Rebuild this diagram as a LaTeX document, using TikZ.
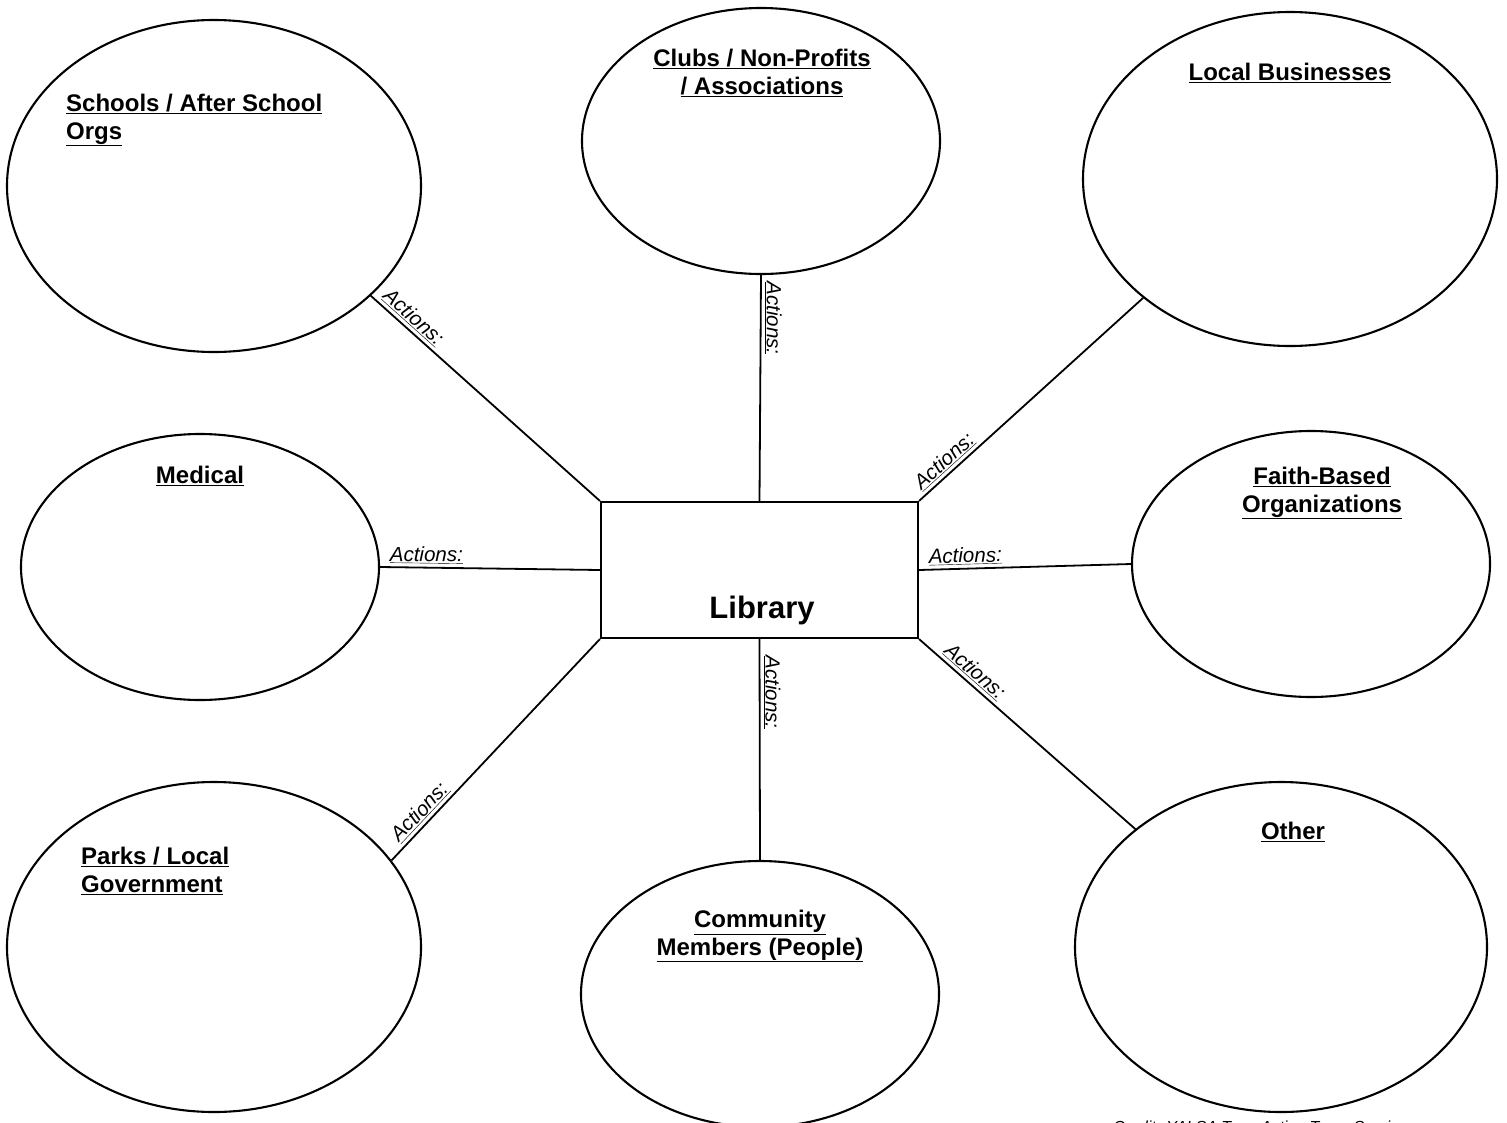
\documentclass[tikz,border=0pt]{standalone}
\usepackage{fontspec}
\setmainfont{Liberation Sans}
\usetikzlibrary{shapes.geometric}
\begin{document}
\begin{tikzpicture}[x=1pt,y=-1pt,
  bub/.style={draw, ellipse, line width=2.1pt, inner sep=0pt},
  ttl/.style={font=\fontsize{24}{27.5}\selectfont\bfseries, inner sep=0pt, anchor=north},
  actf/.style={font=\fontsize{20.5}{22}\selectfont\itshape, inner sep=3pt},
  act/.style={actf, sloped, above},
  conn/.style={line width=1.8pt}]
\useasboundingbox (0,0) rectangle (1507,1122);
% bubbles
\node[bub, minimum width=414pt, minimum height=332pt] (sch) at (214,186) {};
\node[bub, minimum width=358pt, minimum height=266pt] (club) at (761,141) {};
\node[bub, minimum width=414pt, minimum height=334pt] (lb) at (1290,179) {};
\node[bub, minimum width=358pt, minimum height=266pt] (med) at (200,567) {};
\node[bub, minimum width=358pt, minimum height=266pt] (fth) at (1311,564) {};
\node[bub, minimum width=414pt, minimum height=330pt] (park) at (214,947) {};
\node[bub, minimum width=358pt, minimum height=266pt] (comm) at (760,994) {};
\node[bub, minimum width=412pt, minimum height=330pt] (oth) at (1281,947) {};
% library
\node[draw, line width=2.1pt, minimum width=317pt, minimum height=136pt, inner sep=0pt] (lib) at (759.5,570) {};
\node[font=\fontsize{31}{34}\selectfont\bfseries, inner sep=0pt, anchor=base] (libt) at (762,618) {Library};
% titles
\node[ttl, anchor=north west, align=left] (tsch) at (66,94) {\underline{Schools / After School}\\\underline{Orgs}};
\node[ttl, align=center] (tclub) at (762,49) {\underline{Clubs / Non-Profits}\\\underline{/ Associations}};
\node[ttl] (tlb) at (1290,63) {\underline{Local Businesses}};
\node[ttl] (tmed) at (200,466) {\underline{Medical}};
\node[ttl, align=center] (tfth) at (1322,467) {\underline{Faith-Based}\\\underline{Organizations}};
\node[ttl, anchor=north west, align=left] (tpark) at (81,847) {\underline{Parks / Local}\\\underline{Government}};
\node[ttl, align=center] (tcomm) at (760,910) {\underline{Community}\\\underline{Members (People)}};
\node[ttl] (toth) at (1293,822) {\underline{Other}};
% connectors
\draw[conn] (sch.-35) -- node[act, pos=0.15] {\underline{Actions:}} (lib.north west);
\draw[conn] (club.-90) -- node[actf, pos=0.19, rotate=-90, anchor=south] {\underline{Actions:}} (lib.north);
\draw[conn] (lib.north east) -- node[act, pos=0.15] {\underline{Actions:}} (lb.-141);
\draw[conn] (med.0) -- node[act, pos=0.21] {\underline{Actions:}} (lib.west);
\draw[conn] (lib.east) -- node[act, pos=0.22] {\underline{Actions:}} (fth.180);
\draw[conn] (park.26) -- node[act, pos=0.18] {\underline{Actions:}} (lib.south west);
\draw[conn] (lib.south) -- node[actf, pos=0.24, rotate=-90, anchor=south] {\underline{Actions:}} (comm.north);
\draw[conn] (lib.south east) -- node[act, pos=0.22] {\underline{Actions:}} (oth.141);
% credit (clipped at page edge)
\node[font=\fontsize{16}{18}\selectfont\itshape, inner sep=0pt, anchor=base west] (cred) at (1113,1132.5) {Credit: YALSA Teen Action Team Services};
\end{tikzpicture}
\end{document}
